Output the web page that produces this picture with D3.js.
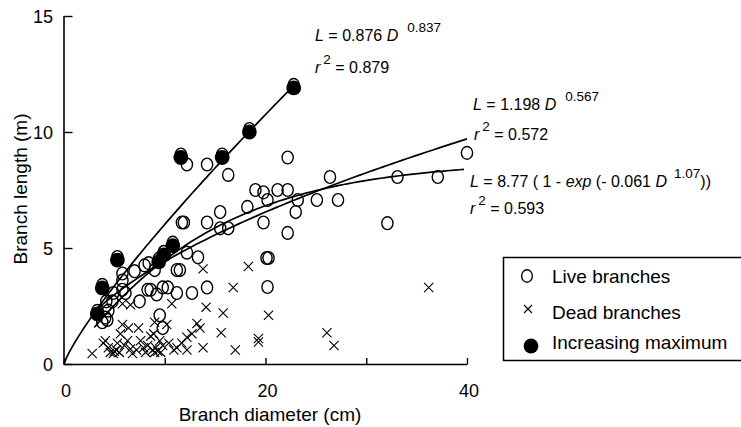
<!DOCTYPE html>
<html>
<head>
<meta charset="utf-8">
<script src="https://cdn.jsdelivr.net/npm/d3@7"></script>
<style>
  body { margin: 0; background: #fff; }
  svg text { font-family: "Liberation Sans", Arial, sans-serif; fill: #000; }
</style>
</head>
<body>
<svg id="chart" width="741" height="427"></svg>
<script>
// branch diameter (cm), branch length (m)
const livePoints = [
  [3.8, 1.8], [4.1, 2.0], [4.3, 1.9], [4.4, 2.3], [4.2, 2.7], [4.8, 2.7],
  [4.9, 3.06], [5.8, 3.2], [6.1, 3.06], [5.8, 3.6], [5.8, 3.9], [7.0, 4.0],
  [8.0, 4.25], [7.5, 2.7], [8.4, 4.35], [9.0, 4.05], [8.3, 3.2], [8.6, 3.2],
  [9.2, 3.0], [9.8, 3.3], [10.3, 3.3], [11.2, 4.05], [11.5, 4.05], [11.2, 3.06],
  [12.7, 3.06], [14.2, 3.3], [12.2, 4.8], [13.3, 4.6], [9.5, 2.1], [9.8, 1.55],
  [11.7, 6.1], [11.9, 6.1], [14.2, 6.1], [15.5, 6.55], [15.5, 5.85], [16.3, 5.85],
  [12.2, 8.6], [14.2, 8.6], [16.3, 8.15], [22.2, 8.9], [26.4, 8.06], [19.0, 7.5],
  [19.8, 7.4], [21.2, 7.5], [22.2, 7.5], [18.2, 6.77], [20.2, 7.07], [23.2, 7.07],
  [23.0, 6.55], [25.1, 7.07], [27.2, 7.07], [19.8, 6.1], [22.2, 5.65], [32.1, 6.07],
  [33.1, 8.06], [37.1, 8.06], [40.0, 9.1], [20.1, 4.57], [20.3, 4.57], [20.2, 3.32]
];

const deadPoints = [
  [2.8, 0.45], [3.9, 0.9], [4.1, 1.0], [4.4, 0.7], [4.6, 0.5], [4.9, 0.45],
  [5.0, 0.55], [5.2, 0.6], [5.3, 0.9], [5.5, 0.5], [5.6, 1.3], [5.8, 1.7],
  [6.3, 1.0], [6.6, 0.65], [6.8, 0.45], [6.4, 1.55], [6.6, 2.55], [5.8, 2.6],
  [7.4, 1.55], [7.6, 1.0], [7.9, 0.7], [8.1, 0.5], [8.3, 0.8], [8.6, 1.2],
  [8.8, 0.6], [9.0, 0.5], [9.1, 0.7], [9.3, 0.55], [9.5, 1.0], [8.9, 1.3],
  [9.0, 1.8], [9.6, 0.5], [9.8, 0.8], [10.2, 1.7], [10.4, 0.9], [10.9, 0.6],
  [10.7, 2.6], [11.2, 0.7], [11.7, 0.9], [12.2, 0.6], [12.2, 1.15], [12.7, 1.3],
  [13.2, 1.75], [13.5, 1.55], [13.8, 0.7], [13.8, 4.1], [14.1, 2.45], [15.8, 2.2],
  [15.6, 1.35], [16.8, 3.3], [17.0, 0.6], [18.3, 4.2], [19.3, 1.1], [19.3, 0.95],
  [20.3, 2.1], [26.1, 1.35], [26.8, 0.8], [36.2, 3.3], [7.2, 0.6], [6.0, 0.8]
];

const maxPoints = [
  [3.3, 2.16], [3.8, 3.28], [5.3, 4.48], [9.4, 4.4], [9.9, 4.7], [10.8, 5.1],
  [11.6, 8.9], [15.7, 8.9], [18.4, 10.0], [22.8, 11.9]
];

const xTicks = [0, 10, 20, 30, 40];
const xLabels = [0, 20, 40];
const yTicks = [0, 5, 10, 15];

// fitted models as printed on the chart
const fitMax = {a: 0.876, b: 0.837, from: 0, to: 22.6};
const fitPow = {a: 1.198, b: 0.567, from: 3, to: 40};
const fitExp = {k: 8.77, c: 0.061, b: 1.07, from: 3, to: 39.7};

const svg = d3.select('#chart');

const x = d3.scaleLinear().domain([0, 40]).range([64, 467]);
const y = d3.scaleLinear().domain([0, 15]).range([364, 16]);

// axes
svg.append('g')
  .attr('transform', 'translate(0, 364)')
  .call(d3.axisBottom(x).tickValues(xTicks).tickSizeInner(-6).tickSizeOuter(0).tickFormat(''))
  .call(g => g.select('.domain').attr('stroke-width', 1.6))
  .call(g => g.selectAll('.tick line').attr('stroke-width', 1.4));

svg.append('g')
  .attr('transform', 'translate(63.5, 0)')
  .call(d3.axisLeft(y).tickValues(yTicks).tickSizeInner(-9).tickSizeOuter(0).tickFormat(''))
  .call(g => g.select('.domain').attr('stroke-width', 1.6))
  .call(g => g.selectAll('.tick line').attr('stroke-width', 1.4));

svg.selectAll('text.xlab')
  .data(xLabels)
  .join('text')
    .attr('class', 'xlab')
    .attr('x', d => x(d) + 2)
    .attr('y', 397)
    .attr('text-anchor', 'middle')
    .attr('font-size', 18)
    .text(d => d);

svg.selectAll('text.ylab')
  .data(yTicks)
  .join('text')
    .attr('class', 'ylab')
    .attr('x', 53)
    .attr('y', d => y(d) + 6.5)
    .attr('text-anchor', 'end')
    .attr('font-size', 18)
    .text(d => d);

svg.append('text')
  .attr('x', 270)
  .attr('y', 421)
  .attr('text-anchor', 'middle')
  .attr('font-size', 19)
  .text('Branch diameter (cm)');

svg.append('text')
  .attr('transform', 'translate(27, 189) rotate(-90)')
  .attr('text-anchor', 'middle')
  .attr('font-size', 19)
  .text('Branch length (m)');

// dead branches
const cs = 4.6;
svg.append('g')
  .selectAll('path')
  .data(deadPoints)
  .join('path')
    .attr('d', d => {
      const px = x(d[0]), py = y(d[1]);
      return `M${px - cs},${py - cs}L${px + cs},${py + cs}M${px - cs},${py + cs}L${px + cs},${py - cs}`;
    })
    .attr('stroke', '#000')
    .attr('stroke-width', 1.1);

// live branches (the maxima are live branches too, drawn under the discs)
svg.append('g')
  .selectAll('ellipse')
  .data(livePoints.concat(maxPoints.map(d => [d[0], d[1], 'max'])))
  .join('ellipse')
    .attr('cx', d => x(d[0]))
    .attr('cy', d => y(d[1]) - (d[2] ? 3 : 0))
    .attr('rx', 5.6)
    .attr('ry', 6.4)
    .attr('fill', 'none')
    .attr('stroke', '#000')
    .attr('stroke-width', 1.4);

// increasing maximum
svg.append('g')
  .selectAll('circle')
  .data(maxPoints)
  .join('circle')
    .attr('cx', d => x(d[0]))
    .attr('cy', d => y(d[1]))
    .attr('r', 7.4)
    .attr('fill', '#000');

// fitted curves
function curve(fn, from, to) {
  return d3.range(from, to + 0.001, (to - from) / 80).map(D => [D, fn(D)]);
}
const line = d3.line().x(d => x(d[0])).y(d => y(d[1]));
const curves = [
  curve(D => fitMax.a * Math.pow(D, fitMax.b), fitMax.from, fitMax.to),
  curve(D => fitPow.a * Math.pow(D, fitPow.b), fitPow.from, fitPow.to),
  curve(D => fitExp.k * (1 - Math.exp(-fitExp.c * Math.pow(D, fitExp.b))), fitExp.from, fitExp.to)
];
svg.append('g')
  .selectAll('path')
  .data(curves)
  .join('path')
    .attr('d', line)
    .attr('fill', 'none')
    .attr('stroke', '#000')
    .attr('stroke-width', 1.7);

// equations
function eq(xp, yp, parts) {
  const t = svg.append('text').attr('x', xp).attr('y', yp).attr('font-size', 16);
  parts.forEach(p => {
    const s = t.append('tspan').text(p.t);
    if (p.i) s.attr('font-style', 'italic');
    if (p.sup) s.attr('font-size', 13.5).attr('dy', -9).attr('dx', p.dx || 0);
    if (p.down) s.attr('dy', 9);
  });
}
eq(315, 41, [{t: 'L', i: 1}, {t: ' = 0.876 '}, {t: 'D', i: 1}, {t: '0.837', sup: 1, dx: 9}]);
eq(315, 73, [{t: 'r', i: 1}, {t: '2', sup: 1, dx: 3}, {t: ' = 0.879', down: 1}]);
eq(473, 110, [{t: 'L', i: 1}, {t: ' = 1.198  '}, {t: 'D', i: 1}, {t: '0.567', sup: 1, dx: 9}]);
eq(474, 140, [{t: 'r', i: 1}, {t: '2', sup: 1, dx: 3}, {t: ' = 0.572', down: 1}]);
eq(470, 187, [{t: 'L', i: 1}, {t: ' = 8.77 ( 1 - '}, {t: 'exp', i: 1}, {t: ' (- 0.061 '}, {t: 'D', i: 1},
  {t: '1.07', sup: 1, dx: 7}, {t: '))', down: 1}]);
eq(470, 214, [{t: 'r', i: 1}, {t: '2', sup: 1, dx: 3}, {t: ' = 0.593', down: 1}]);

// legend
const legend = svg.append('g');
legend.append('rect')
  .attr('x', 503.5).attr('y', 257.5)
  .attr('width', 260).attr('height', 103)
  .attr('fill', 'none').attr('stroke', '#000').attr('stroke-width', 1.5);
legend.append('ellipse')
  .attr('cx', 527).attr('cy', 276).attr('rx', 5.4).attr('ry', 6.2)
  .attr('fill', 'none').attr('stroke', '#000').attr('stroke-width', 1.4);
legend.append('path')
  .attr('d', 'M524,305L532,313M524,313L532,305')
  .attr('stroke', '#000').attr('stroke-width', 1.1);
legend.append('circle')
  .attr('cx', 531).attr('cy', 346).attr('r', 7.4).attr('fill', '#000');
const legendLabels = ['Live branches', 'Dead branches', 'Increasing maximum'];
const legendY = [283, 319, 349];
legend.selectAll('text')
  .data(legendLabels)
  .join('text')
    .attr('x', 552)
    .attr('y', (d, i) => legendY[i])
    .attr('font-size', 19)
    .text(d => d);
</script>
</body>
</html>
